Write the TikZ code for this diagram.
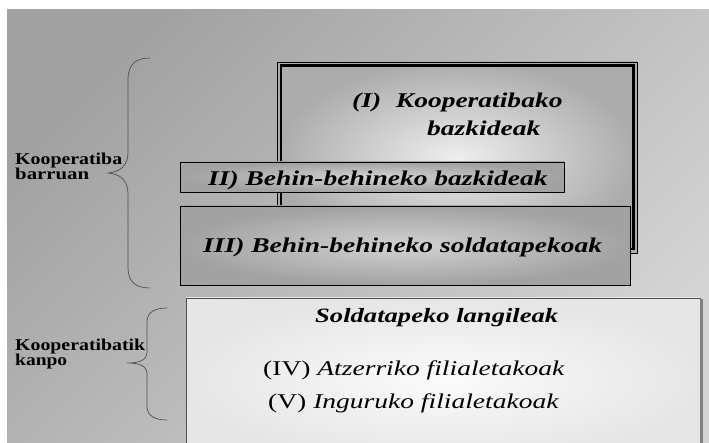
\documentclass[tikz,border=0pt]{standalone}
\usepackage{fontspec}
\usepackage{graphicx}
\setmainfont{Liberation Serif}[FakeStretch=1.31]
\newfontfamily\sidefont{Liberation Serif}
\definecolor{bgdark}{HTML}{A2A2A2}
\definecolor{bglight}{HTML}{D4D4D4}
\definecolor{oneIn}{HTML}{EEEEEE}
\definecolor{oneOut}{HTML}{ACACAC}
\definecolor{grayIn}{HTML}{D2D2D2}
\definecolor{grayOut}{HTML}{A2A2A2}
\definecolor{whiteIn}{HTML}{FBFBFB}
\definecolor{whiteOut}{HTML}{E6E6E6}
\definecolor{bracecol}{HTML}{505050}
\newcommand{\sidetxt}[2]{\resizebox{#1pt}{11.5pt}{\sidefont\bfseries #2}}
\tikzset{
  lbl/.style={inner sep=0pt, anchor=base west},
  bigbi/.style={lbl, font=\fontsize{21}{25}\selectfont\bfseries\itshape},
  midbi/.style={lbl, font=\fontsize{20.3}{24}\selectfont\bfseries\itshape},
  plain/.style={lbl, font=\fontsize{21}{25}\selectfont},
  bracestyle/.style={draw=bracecol, line width=0.7pt},
}
\begin{document}
\begin{tikzpicture}[x=1pt,y=-1pt]
\useasboundingbox (0,0) rectangle (709,443);
\fill[white] (0,0) rectangle (709,443);
\begin{scope}
\clip (0,0) rectangle (709,443);
\shade[top color=bgdark, bottom color=bglight, shading angle=45] (7,10) rectangle (709,443);

% Box I
\shade[inner color=oneIn, outer color=oneOut] (277,62) rectangle (637,253);
\draw[line width=0.8pt] (277,62) rectangle (637,253);
\draw[line width=2.6pt] (280.8,65.8) rectangle (633.2,249.2);
\node[bigbi] (t1a) at (352,108) {(I)\hspace{0.7em}Kooperatibako};
\node[bigbi] (t1b) at (427,136) {bazkideak};

% Box II
\shade[inner color=grayIn, outer color=grayOut] (180,162) rectangle (564,192);
\draw[line width=0.8pt] (180,162) rectangle (564,192);
\node[bigbi] (t2) at (208,186) {II) Behin-behineko bazkideak};

% Box III
\shade[inner color=grayIn, outer color=grayOut] (180,206) rectangle (630,285);
\draw[line width=0.8pt] (180,206) rectangle (630,285);
\node[bigbi] (t3) at (203,253) {III) Behin-behineko soldatapekoak};

% Bottom box
\shade[inner color=whiteIn, outer color=whiteOut] (186,298) rectangle (700,460);
\draw[line width=0.7pt, draw=bracecol] (186,298) rectangle (700,460);
\draw[line width=2.6pt, draw=gray] (701.5,299) -- (701.5,460);
\node[midbi] (t4) at (315,323) {Soldatapeko langileak};
\node[plain] (t5) at (263,375) {(IV) \textit{Atzerriko filialetakoak}};
\node[plain] (t6) at (268,408) {(V) \textit{Inguruko filialetakoak}};

% Braces
\draw[bracestyle] (150,58) .. controls (136,58) and (128,64) .. (128,80)
  -- (128,152) .. controls (128,166) and (120,172) .. (108,173)
  .. controls (120,174) and (128,180) .. (128,194)
  -- (128,268) .. controls (128,282) and (136,288) .. (150,288);
\draw[bracestyle] (167,308) .. controls (155,308) and (147,312) .. (147,322)
  -- (147,352) .. controls (147,360) and (140,363) .. (127,363)
  .. controls (140,363) and (147,366) .. (147,374)
  -- (147,406) .. controls (147,416) and (155,420) .. (167,420);

\node[lbl] (s1a) at (15,164.5) {\sidetxt{107}{Kooperatiba}};
\node[lbl] (s1b) at (15,180) {\sidetxt{74}{barruan}};
\node[lbl] (s2a) at (15,350) {\sidetxt{130}{Kooperatibatik}};
\node[lbl] (s2b) at (15,365.5) {\sidetxt{52}{kanpo}};
\end{scope}
\end{tikzpicture}
\end{document}
